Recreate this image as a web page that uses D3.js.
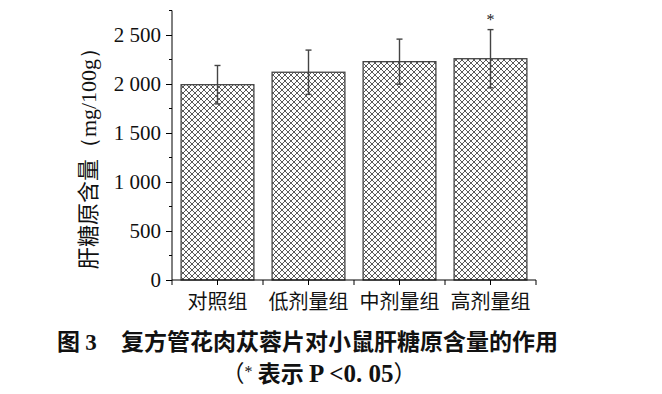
<!DOCTYPE html>
<html><head><meta charset="utf-8">
<script src="https://cdn.jsdelivr.net/npm/d3@7"></script>
<style>body{margin:0;background:#fff}svg{display:block}</style>
</head><body>
<svg id="c" width="662" height="394"></svg>
<script>
const categories = ["对照组","低剂量组","中剂量组","高剂量组"];
const means = [1993, 2120, 2228, 2258];
const sds = [196, 226, 230, 297];
const sig = ["", "", "", "*"];
const yTicks = [0, 500, 1000, 1500, 2000, 2500];
const yTickLabels = ["0", "500", "1 000", "1 500", "2 000", "2 500"];
const titleBody = "复方管花肉苁蓉片对小鼠肝糖原含量的作用";
const yLabelCN = "肝糖原含量";
const yLabelUnit = "（mg/100g）";

(function(){
const svg = d3.select("#c");
const pL = 172, pR = 536, pT = 10.5, pB = 280;
const x = d3.scaleBand().domain(categories).range([pL, pR]).paddingInner(0.2).paddingOuter(0.1);
const y = d3.scaleLinear().domain([0, 2750]).range([pB, pT]);

const defs = svg.append("defs");
const pat = defs.append("pattern").attr("id","hatch").attr("patternUnits","userSpaceOnUse")
  .attr("width",6).attr("height",6);
pat.append("rect").attr("width",6).attr("height",6).attr("fill","#fff");
pat.append("path").attr("d","M0,0L6,6M6,0L0,6M-1,5L1,7M5,-1L7,1M-1,1L1,-1M5,7L7,5")
  .attr("stroke","#5a5a5a").attr("stroke-width",1).attr("fill","none");

svg.selectAll("rect.bar").data(categories).join("rect").attr("class","bar")
  .attr("x", d => x(d)).attr("width", x.bandwidth())
  .attr("y", (d,i) => y(means[i])).attr("height", (d,i) => y(0) - y(means[i]))
  .attr("fill","url(#hatch)").attr("stroke","#444").attr("stroke-width",1.3);

const eb = svg.append("g").attr("stroke","#444").attr("stroke-width",1.4);
categories.forEach((c,i) => {
  const cx = x(c) + x.bandwidth()/2;
  eb.append("line").attr("x1",cx).attr("x2",cx).attr("y1",y(means[i]-sds[i])).attr("y2",y(means[i]+sds[i]));
  eb.append("line").attr("x1",cx-3).attr("x2",cx+3).attr("y1",y(means[i]+sds[i])).attr("y2",y(means[i]+sds[i]));
  eb.append("line").attr("x1",cx-3).attr("x2",cx+3).attr("y1",y(means[i]-sds[i])).attr("y2",y(means[i]-sds[i]));
  if (sig[i]) svg.append("text").attr("x",cx).attr("y",y(means[i]+sds[i]) - 5)
    .attr("text-anchor","middle").attr("font-family","Liberation Serif").attr("font-size",16).attr("fill","#222").text(sig[i]);
});

const yAxis = d3.axisLeft(y).tickValues(yTicks).tickSize(6).tickPadding(5)
  .tickFormat((d,i) => yTickLabels[i]);
const gy = svg.append("g").attr("transform",`translate(${pL},0)`).call(yAxis);
gy.select(".domain").attr("d", `M0,${pB}V${pT}`).attr("stroke","#000");
gy.selectAll(".tick text").attr("font-family","Liberation Serif").attr("font-size",21).attr("fill","#111");
gy.selectAll(".tick line").attr("stroke","#000");
const minor = d3.range(250, 2751, 500);
gy.selectAll("line.minor").data(minor).join("line").attr("class","minor")
  .attr("x1",-3).attr("x2",0).attr("y1",d=>y(d)).attr("y2",d=>y(d)).attr("stroke","#000");

const gx = svg.append("g").attr("transform",`translate(0,${pB})`);
gx.append("line").attr("x1",pL).attr("x2",pR).attr("stroke","#000");
const step = x.step();
const bounds = d3.range(categories.length+1).map(i => pL + i*step);
const centers = categories.map(c => x(c) + x.bandwidth()/2);
gx.selectAll("line.t").data(bounds.concat(centers)).join("line").attr("class","t")
  .attr("x1",d=>d).attr("x2",d=>d).attr("y1",0).attr("y2",5).attr("stroke","#000");
gx.selectAll("text").data(categories).join("text")
  .attr("x",(d,i)=>centers[i]).attr("y",29).attr("text-anchor","middle")
  .attr("font-family","Noto Sans CJK SC").attr("font-size",20).attr("fill","#111").text(d=>d);

const yl = svg.append("text").attr("transform","translate(96,153) rotate(-90)").attr("text-anchor","middle")
  .attr("fill","#111").attr("font-size",22);
yl.append("tspan").attr("font-family","Noto Sans CJK SC").text(yLabelCN);
yl.append("tspan").attr("font-family","Liberation Serif").text(yLabelUnit);

const tt = svg.append("text").attr("y",350).attr("fill","#111").attr("font-weight","bold").attr("font-size",23);
tt.append("tspan").attr("x",57).attr("font-family","Noto Sans CJK SC").text("图 ");
tt.append("tspan").attr("font-family","Liberation Serif").text("3");
tt.append("tspan").attr("x",121).attr("font-family","Noto Sans CJK SC").text(titleBody);

const st = svg.append("text").attr("x",319).attr("y",382).attr("text-anchor","middle").attr("fill","#111").attr("font-size",23);
st.append("tspan").attr("font-family","Noto Sans CJK SC").text("（");
st.append("tspan").attr("font-family","Liberation Serif").attr("font-size",16).attr("dy",-5).text("*");
st.append("tspan").attr("font-family","Noto Sans CJK SC").attr("font-weight","bold").attr("dy",5).text("  表示 ");
st.append("tspan").attr("font-family","Liberation Serif").attr("font-weight","bold").attr("font-size",25).text("P <0. 05");
st.append("tspan").attr("font-family","Noto Sans CJK SC").text("）");
})();
</script>
</body></html>
